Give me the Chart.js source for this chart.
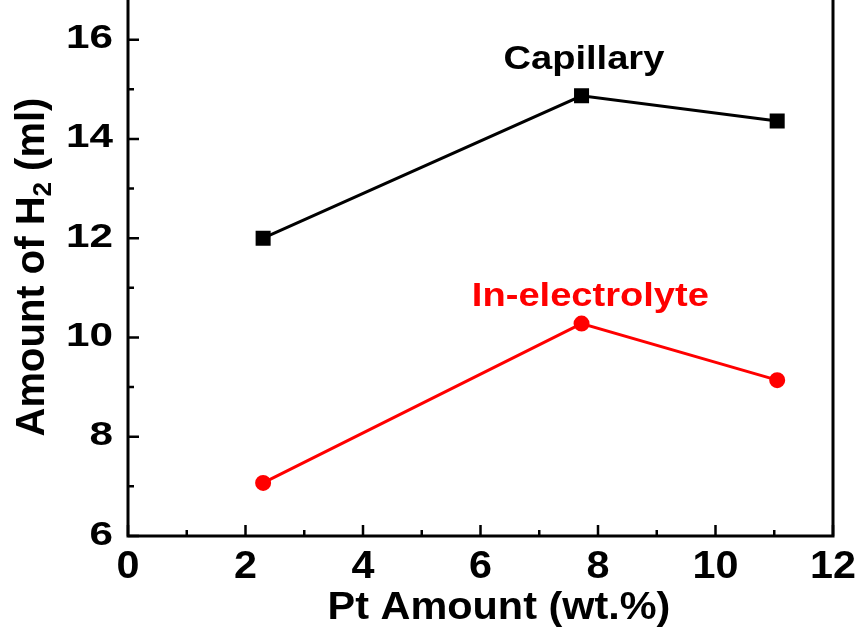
<!DOCTYPE html>
<html>
<head>
<meta charset="utf-8">
<script src="https://cdn.jsdelivr.net/npm/chart.js@4.4.1/dist/chart.umd.min.js"></script>
<style>
    html, body { margin: 0; padding: 0; background: #fff; }
    #wrap { width: 861px; height: 634px; }
</style>
</head>
<body>
<div id="wrap"><canvas id="chart"></canvas></div>
<script>
// values
const ptAmount = [2.3, 7.72, 11.05];
const capillary = [12.0, 14.87, 14.36];
const inElectrolyte = [7.07, 10.28, 9.14];

const xTicks = [0, 2, 4, 6, 8, 10, 12];
const xMinor = [1, 3, 5, 7, 9, 11];
const yTicks = [6, 8, 10, 12, 14, 16];
const yMinor = [7, 9, 11, 13, 15];

const xTitle = 'Pt Amount (wt.%)';
const annotations = [
    { text: 'Capillary', x: 7.76, y: 15.6, color: '#000' },
    { text: 'In-electrolyte', x: 7.87, y: 10.83, color: '#ff0000' },
];

const FONT = '"Liberation Sans", Arial, sans-serif';

const toPoints = (ys) => ptAmount.map((x, i) => ({ x: x, y: ys[i] }));

// the reference text is a little wider than plain Arial, so stretch it
const putText = (ctx, text, x, y, sx, align) => {
    ctx.save();
    ctx.translate(x, y);
    ctx.scale(sx, 1);
    ctx.textAlign = align;
    ctx.fillText(text, 0, 0);
    ctx.restore();
};

const framePlugin = {
    id: 'frame',
    afterDatasetsDraw(chart) {
        const { ctx, chartArea, scales } = chart;
        const { left, right, bottom } = chartArea;
        const xs = scales.x;
        const ys = scales.y;

        ctx.save();
        ctx.strokeStyle = '#000';
        ctx.lineWidth = 3;
        ctx.beginPath();
        ctx.moveTo(left, 0);
        ctx.lineTo(left, bottom);
        ctx.lineTo(right, bottom);
        ctx.lineTo(right, 0);
        ctx.stroke();

        ctx.lineWidth = 2.5;
        ctx.beginPath();
        xTicks.forEach(v => {
            const px = xs.getPixelForValue(v);
            ctx.moveTo(px, bottom);
            ctx.lineTo(px, bottom - 11);
        });
        xMinor.forEach(v => {
            const px = xs.getPixelForValue(v);
            ctx.moveTo(px, bottom);
            ctx.lineTo(px, bottom - 6);
        });
        yTicks.forEach(v => {
            const py = ys.getPixelForValue(v);
            ctx.moveTo(left, py);
            ctx.lineTo(left + 11, py);
        });
        yMinor.forEach(v => {
            const py = ys.getPixelForValue(v);
            ctx.moveTo(left, py);
            ctx.lineTo(left + 6, py);
        });
        ctx.stroke();

        ctx.fillStyle = '#000';
        ctx.textBaseline = 'alphabetic';

        // tick labels
        ctx.font = 'bold 33px ' + FONT;
        yTicks.forEach(v => {
            putText(ctx, String(v), left - 15, ys.getPixelForValue(v) + 8.5, 1.28, 'right');
        });
        ctx.font = 'bold 39px ' + FONT;
        xTicks.forEach(v => {
            putText(ctx, String(v), xs.getPixelForValue(v), bottom + 42, 1.06, 'center');
        });

        // x title
        ctx.font = 'bold 38px ' + FONT;
        putText(ctx, xTitle, 499, 619, 1.09, 'center');

        // curve labels
        ctx.font = 'bold 34px ' + FONT;
        ctx.textBaseline = 'middle';
        annotations.forEach(a => {
            ctx.fillStyle = a.color;
            putText(ctx, a.text, xs.getPixelForValue(a.x), ys.getPixelForValue(a.y), 1.12, 'center');
        });

        // y title with subscript
        const main = 'bold 40px ' + FONT;
        const sub = 'bold 26px ' + FONT;
        const parts = [
            { t: 'Amount of H', f: main, dy: 0 },
            { t: '2', f: sub, dy: 7 },
            { t: ' (ml)', f: main, dy: 0 },
        ];
        let total = 0;
        parts.forEach(p => { ctx.font = p.f; p.w = ctx.measureText(p.t).width; total += p.w; });
        ctx.translate(44, 267);
        ctx.rotate(-Math.PI / 2);
        ctx.fillStyle = '#000';
        ctx.textAlign = 'left';
        ctx.textBaseline = 'alphabetic';
        let cx = -total / 2;
        parts.forEach(p => {
            ctx.font = p.f;
            ctx.fillText(p.t, cx, p.dy);
            cx += p.w;
        });
        ctx.restore();
    }
};

const ctx = document.getElementById('chart').getContext('2d');

new Chart(ctx, {
    type: 'line',
    data: {
        datasets: [
            {
                label: 'Capillary',
                data: toPoints(capillary),
                borderColor: '#000',
                backgroundColor: '#000',
                borderWidth: 3,
                pointStyle: 'rect',
                pointRadius: 8.5,
                pointHoverRadius: 8.5,
            },
            {
                label: 'In-electrolyte',
                data: toPoints(inElectrolyte),
                borderColor: '#ff0000',
                backgroundColor: '#ff0000',
                borderWidth: 3,
                pointStyle: 'circle',
                pointRadius: 6.5,
                pointHoverRadius: 6.5,
            }
        ]
    },
    options: {
        responsive: true,
        maintainAspectRatio: false,
        animation: false,
        layout: { autoPadding: false, padding: { left: 0, right: 28, top: 0, bottom: 0 } },
        plugins: {
            legend: { display: false },
            tooltip: { enabled: false },
        },
        scales: {
            x: {
                type: 'linear',
                min: 0,
                max: 12,
                border: { display: false },
                grid: { display: false, drawTicks: false },
                ticks: { display: false },
                afterFit: (scale) => {
                    scale.height = 98;
                    scale.paddingLeft = 0;
                    scale.paddingRight = 0;
                },
            },
            y: {
                type: 'linear',
                min: 6,
                max: 16.8,
                border: { display: false },
                grid: { display: false, drawTicks: false },
                ticks: { display: false },
                afterFit: (scale) => {
                    scale.width = 128;
                    scale.paddingTop = 0;
                    scale.paddingBottom = 0;
                },
            }
        }
    },
    plugins: [framePlugin]
});
</script>
</body>
</html>
